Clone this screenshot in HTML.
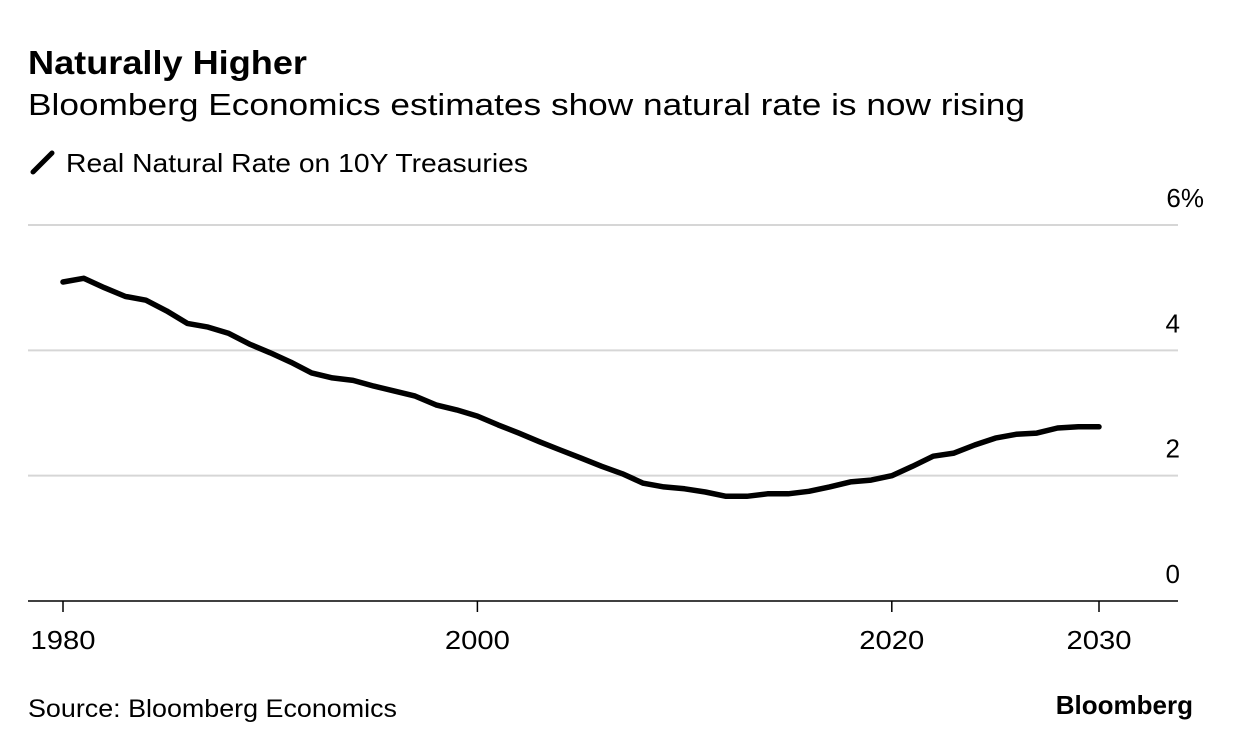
<!DOCTYPE html>
<html><head><meta charset="utf-8"><style>
body{margin:0;background:#fff;width:1233px;height:750px;overflow:hidden;font-family:"Liberation Sans",Arial,sans-serif;color:#000}
svg{position:absolute;left:0;top:0}
</style></head><body>
<svg width="1233" height="750">
<text x="28" y="74" font-size="33" font-weight="bold" textLength="279" lengthAdjust="spacingAndGlyphs">Naturally Higher</text>
<text x="28" y="115" font-size="31" textLength="997" lengthAdjust="spacingAndGlyphs">Bloomberg Economics estimates show natural rate is now rising</text>
<g>
<line x1="33" y1="172" x2="52" y2="153" stroke="#000" stroke-width="5" stroke-linecap="round"/>
<text x="66" y="172" font-size="26" textLength="462" lengthAdjust="spacingAndGlyphs">Real Natural Rate on 10Y Treasuries</text>
</g>
<g id="grid"></g><g id="xaxis"></g><path id="line" fill="none" stroke="#000" stroke-width="5.5" stroke-linejoin="round" stroke-linecap="round"/>
<text x="28" y="717" font-size="25" textLength="369" lengthAdjust="spacingAndGlyphs">Source: Bloomberg Economics</text>
<text x="1193" y="714" font-size="26" font-weight="bold" text-anchor="end">Bloomberg</text>
</svg>
<script>
const years=[];for(let y=1980;y<=2030;y++)years.push(y);
const values=[5.09,5.15,5.0,4.86,4.8,4.63,4.43,4.37,4.27,4.1,3.96,3.81,3.64,3.56,3.52,3.43,3.35,3.27,3.13,3.05,2.95,2.81,2.68,2.54,2.41,2.28,2.15,2.03,1.88,1.82,1.79,1.74,1.67,1.67,1.71,1.71,1.75,1.82,1.9,1.93,2.0,2.15,2.31,2.36,2.49,2.6,2.66,2.68,2.76,2.78,2.78];
const yTicks=[0,2,4,6];
const yTickLabels=["0","2","4","6%"];
const xTicks=[1980,2000,2020,2030];
const X=y=>63+(y-1980)*(1099-63)/50;
const Y=v=>601-v*(601-225)/6;
const ns="http://www.w3.org/2000/svg";
const grid=document.getElementById('grid'),xa=document.getElementById('xaxis');
yTicks.forEach((t,i)=>{
 const l=document.createElementNS(ns,'line');
 l.setAttribute('x1',28);l.setAttribute('x2',1178);l.setAttribute('y1',Y(t));l.setAttribute('y2',Y(t));
 l.setAttribute('stroke',t===0?'#000':'#d6d6d6');l.setAttribute('stroke-width',t===0?1.5:2);
 
 
 grid.appendChild(l);
 const tx=document.createElementNS(ns,'text');
 tx.setAttribute('x',t===6?1204:1180);tx.setAttribute('y',Y(t)-18);tx.setAttribute('text-anchor','end');tx.setAttribute('font-size','26');
 tx.textContent=yTickLabels[i];
 
 
 grid.appendChild(tx);
});
xTicks.forEach(t=>{
 const l=document.createElementNS(ns,'line');
 l.setAttribute('x1',X(t));l.setAttribute('x2',X(t));l.setAttribute('y1',601);l.setAttribute('y2',612);
 l.setAttribute('stroke','#000');l.setAttribute('stroke-width',1.5);
 
 
 xa.appendChild(l);
 const tx=document.createElementNS(ns,'text');
 tx.setAttribute('x',X(t));tx.setAttribute('y',649);tx.setAttribute('text-anchor','middle');tx.setAttribute('font-size','26');
 tx.setAttribute('textLength','65');tx.setAttribute('lengthAdjust','spacingAndGlyphs');
 tx.textContent=t;
 
 
 xa.appendChild(tx);
});
document.getElementById('line').setAttribute('d',values.map((v,i)=>(i?'L':'M')+X(years[i]).toFixed(1)+','+Y(v).toFixed(1)).join(''));
</script>
</body></html>
